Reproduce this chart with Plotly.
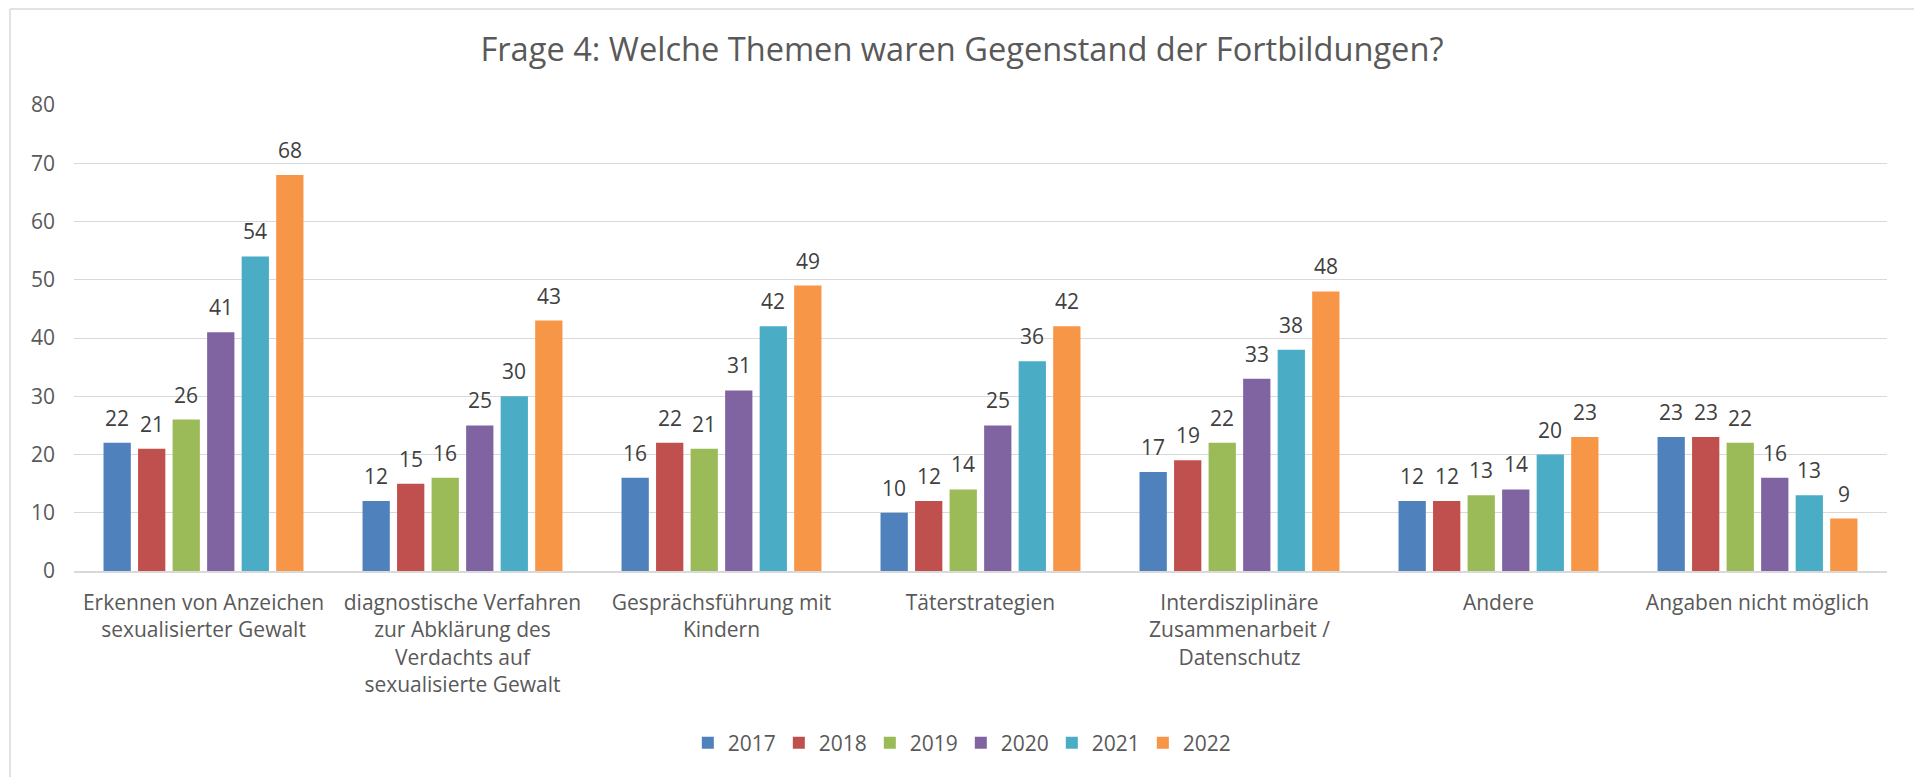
import plotly.graph_objects as go

categories = [
    "Erkennen von Anzeichen<br>sexualisierter Gewalt",
    "diagnostische Verfahren<br>zur Abklärung des<br>Verdachts auf<br>sexualisierte Gewalt",
    "Gesprächsführung mit<br>Kindern",
    "Täterstrategien",
    "Interdisziplinäre<br>Zusammenarbeit /<br>Datenschutz",
    "Andere",
    "Angaben nicht möglich",
]
years = ["2017", "2018", "2019", "2020", "2021", "2022"]
v2017 = [22, 12, 16, 10, 17, 12, 23]
v2018 = [21, 15, 22, 12, 19, 12, 23]
v2019 = [26, 16, 21, 14, 22, 13, 22]
v2020 = [41, 25, 31, 25, 33, 14, 16]
v2021 = [54, 30, 42, 36, 38, 20, 13]
v2022 = [68, 43, 49, 42, 48, 23, 9]
series = [v2017, v2018, v2019, v2020, v2021, v2022]
colors = ["#4F81BD", "#C0504D", "#9BBB59", "#8064A2", "#4BACC6", "#F79646"]
title_text = "Frage 4: Welche Themen waren Gegenstand der Fortbildungen?"

FONT = "Open Sans"
BARGAP = 0.2
BARGROUPGAP = 0.21

fig = go.Figure()
for name, vals, col in zip(years, series, colors):
    fig.add_trace(go.Bar(
        name=name, x=categories, y=vals,
        marker=dict(color=col, line=dict(width=0)),
    ))

# data labels above bars
n = len(series)
slot = (1 - BARGAP) / n
annotations = []
for j, vals in enumerate(series):
    for i, v in enumerate(vals):
        annotations.append(dict(
            x=i + (j - (n - 1) / 2) * slot, y=v, xref="x", yref="y",
            text=str(v), showarrow=False, yanchor="bottom", yshift=9,
            font=dict(family=FONT, size=21, color="#404040"),
        ))

fig.update_layout(
    width=1914, height=777,
    margin=dict(l=74, r=27, t=105, b=206),
    paper_bgcolor="white", plot_bgcolor="white",
    barmode="group", bargap=BARGAP, bargroupgap=BARGROUPGAP,
    font=dict(family=FONT, size=21, color="#595959"),
    title=dict(text=title_text, x=0.5026, xref="container", xanchor="center",
               y=0.9356, yref="container", yanchor="middle",
               font=dict(family=FONT, size=32.6, color="#595959")),
    legend=dict(orientation="h", x=0.502, xanchor="center", xref="container",
                y=0.0437, yanchor="middle", yref="container",
                font=dict(family=FONT, size=21, color="#595959"),
                entrywidth=46, entrywidthmode="pixels",
                traceorder="normal"),
    annotations=annotations,
    shapes=[
        dict(type="line", xref="paper", yref="paper",
             x0=(10 - 74) / 1813, x1=(10 - 74) / 1813, y0=(571 - 9) / 466, y1=-0.5,
             line=dict(color="#D9D9D9", width=1.5)),
        dict(type="line", xref="paper", yref="paper",
             x0=(10 - 74) / 1813, x1=1.1, y0=(571 - 9) / 466, y1=(571 - 9) / 466,
             line=dict(color="#D9D9D9", width=1.5)),
    ],
)
fig.update_yaxes(range=[0, 80], dtick=10, showgrid=True, gridcolor="#D9D9D9",
                 gridwidth=1, zeroline=False, showline=False, ticks="",
                 ticklabelstandoff=18,
                 tickfont=dict(family=FONT, size=21, color="#595959"))
fig.update_xaxes(showline=True, linecolor="#D9D9D9", linewidth=1.5, ticks="",
                 showgrid=False, tickangle=0, ticklabelstandoff=12,
                 tickfont=dict(family=FONT, size=21, color="#595959"))

fig.write_html("out.html", config={"displayModeBar": False},
               post_script="document.body.style.margin='0';")
